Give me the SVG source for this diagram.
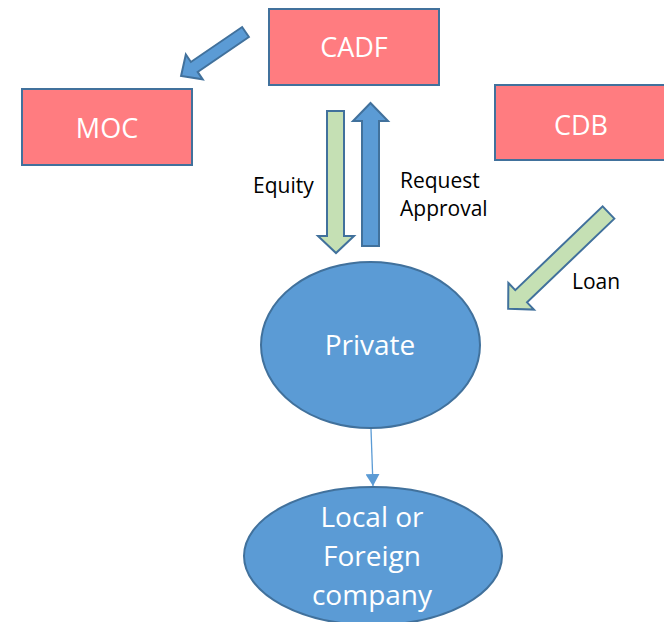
<svg xmlns="http://www.w3.org/2000/svg" width="664" height="622" viewBox="0 0 664 622">
<style>
.box{fill:#FF7C80;stroke:#41719C;stroke-width:2}
.ell{fill:#5B9BD5;stroke:#41719C;stroke-width:2}
.wt{fill:#FFFFFF;font-family:"Open Sans","Noto Sans",sans-serif;font-size:27px;text-anchor:middle}
.we{fill:#FFFFFF;font-family:"Open Sans","Noto Sans",sans-serif;font-size:28px;text-anchor:middle}
.lb{fill:#000000;font-family:"Open Sans","Noto Sans",sans-serif;font-size:21px}
.ablue{fill:#5B9BD5;stroke:#41719C;stroke-width:2;stroke-linejoin:miter}
.agreen{fill:#C5E0B4;stroke:#41719C;stroke-width:2;stroke-linejoin:miter}
</style>
<defs>
<marker id="ah" markerWidth="12" markerHeight="14" refX="12" refY="7" orient="auto" markerUnits="userSpaceOnUse">
<path d="M0,0 L12,7 L0,14 Z" fill="#5B9BD5"/>
</marker>
</defs>
<rect width="664" height="622" fill="#FFFFFF"/>
<g id="connectors">
<polygon class="ablue" transform="translate(245.5,32) rotate(145.7)" points="0,-6 62,-6 62,-15 78,0 62,15 62,6 0,6"/>
<polygon class="agreen" points="327,111 344,111 344,236 354,236 336,253 318,236 327,236"/>
<polygon class="ablue" points="362,246 379,246 379,121 388,121 370.5,103 353,121 362,121"/>
<polygon class="agreen" transform="translate(608.5,212.5) rotate(136.2)" points="0,-8.5 121,-8.5 121,-18.5 139,0 121,18.5 121,8.5 0,8.5"/>
<line x1="371" y1="429" x2="373" y2="486" stroke="#5B9BD5" stroke-width="1.3" marker-end="url(#ah)"/>
<text class="lb" x="253" y="193">Equity</text>
<text class="lb" x="400" y="188">Request</text>
<text class="lb" x="400" y="216">Approval</text>
<text class="lb" x="572" y="289">Loan</text>
</g>
<g id="CADF">
<rect class="box" x="269" y="9" width="170" height="76"/>
<text class="wt" x="354" y="57">CADF</text>
</g>
<g id="MOC">
<rect class="box" x="22" y="89" width="170" height="76"/>
<text class="wt" x="107" y="138">MOC</text>
</g>
<g id="CDB">
<rect class="box" x="495" y="85" width="175" height="75"/>
<text class="wt" x="581" y="135">CDB</text>
</g>
<g id="Private">
<ellipse class="ell" cx="370.5" cy="345" rx="109.5" ry="83"/>
<text class="we" x="370" y="355">Private</text>
</g>
<g id="Company">
<ellipse class="ell" cx="373" cy="556" rx="129" ry="69"/>
<text class="we" x="372" y="527">Local or</text>
<text class="we" x="372" y="566">Foreign</text>
<text class="we" x="372" y="605">company</text>
</g>
</svg>
